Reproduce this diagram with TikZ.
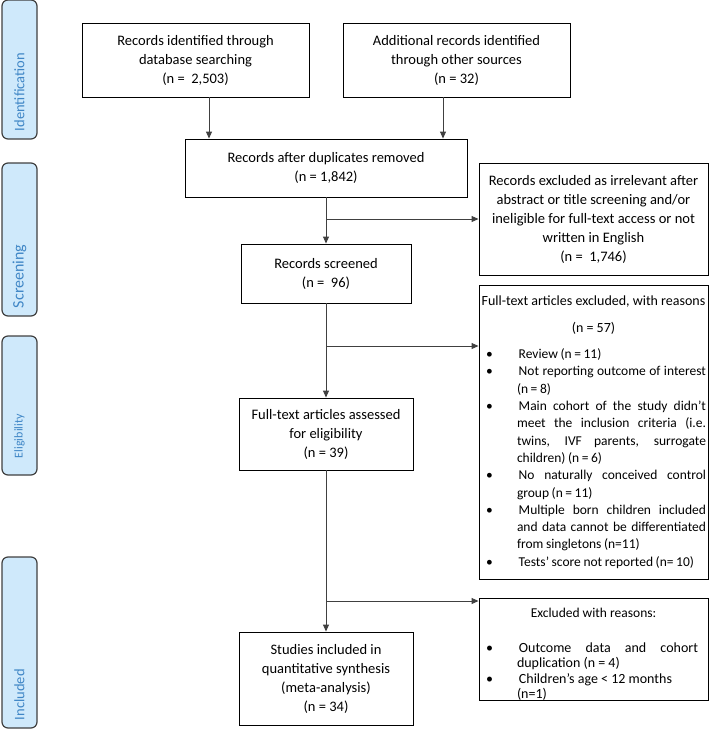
\documentclass[tikz,border=0pt]{standalone}
\usepackage{fontspec}
\setmainfont{Carlito}
\usepackage{enumitem}
\usetikzlibrary{arrows.meta, positioning}
\definecolor{linegray}{HTML}{404040}
\definecolor{stagefill}{HTML}{CFE9FB}
\definecolor{stagetext}{HTML}{3F86C6}
\tikzset{
  stagebar/.style={draw=linegray, line width=1.2pt, fill=stagefill, rounded corners=6pt,
                   rotate=90, minimum height=35pt, text=stagetext, align=left,
                   font=\fontsize{16}{18}\selectfont, inner ysep=0pt},
  flowbox/.style={draw=black, line width=0.9pt, align=center, inner sep=2pt,
                  font=\fontsize{14.5}{19}\selectfont},
  listbox/.style={flowbox, align=justify, inner xsep=2pt, text width=225pt,
                  execute at begin node={\hyphenpenalty=10000\exhyphenpenalty=10000}},
  flowarrow/.style={-{Triangle[length=7pt, width=6pt]}, line width=0.9pt, linegray},
}
\setlist[itemize]{label=\textbullet, leftmargin=36pt, labelwidth=5pt, labelsep=26pt,
  align=left, rightmargin=0pt, topsep=0pt, itemsep=0pt, parsep=0pt, partopsep=0pt}
\newcommand{\tightspace}{\spaceskip=0.19em plus 0.3em minus 0.06em\relax}

\begin{document}
\begin{tikzpicture}[x=1pt, y=1pt]
  \useasboundingbox (0,0) rectangle (709,-729);

  % stages
  \node[stagebar, minimum width=139pt, text width=123pt, font=\fontsize{14.5}{16}\selectfont] (sid) at (19.5,-69.5) {Identification};
  \node[stagebar, minimum width=153pt, text width=137pt] (sscr) at (19.5,-239.5) {Screening};
  \node[stagebar, minimum width=139pt, text width=105pt, font=\fontsize{12}{13}\selectfont] (selig) at (19.5,-405.5) {Eligibility};
  \node[stagebar, minimum width=171pt, text width=155pt, font=\fontsize{14.5}{16}\selectfont] (sinc) at (19.5,-642.5) {Included};

  % main flow
  \node[flowbox, minimum width=227pt, minimum height=74pt] (rec1) at (195.5,-60) {Records identified through\\database searching\\(n =~ 2,503)};
  \node[flowbox, minimum width=227pt, minimum height=74pt] (rec2) at (456.5,-60) {Additional records identified\\through other sources\\(n = 32)};
  \node[flowbox, minimum width=282pt, minimum height=58pt] (dedup) at (326,-168) {Records after duplicates removed\\(n = 1,842)};
  \node[flowbox, minimum width=170pt, minimum height=59pt] (screened) at (326,-273.5) {Records screened\\(n =~ 96)};
  \node[flowbox, minimum width=174pt, minimum height=72pt] (fulltext) at (326,-434) {Full-text articles assessed\\for eligibility\\(n = 39)};
  \node[flowbox, minimum width=174pt, minimum height=93pt] (included) at (326,-678.5) {Studies included in\\quantitative synthesis\\(meta-analysis)\\(n = 34)};

  % exclusions
  \node[flowbox, minimum width=229pt, minimum height=112pt] (excl1) at (593.5,-219) {Records excluded as irrelevant after\\abstract or title screening and/or\\ineligible for full-text access or not\\written in English\\(n =~ 1,746)};
  \node[listbox, minimum height=294pt] (excl2) at (593.5,-432) {%
    {\centering\fontsize{14}{17}\selectfont \makebox[\linewidth]{Full-text articles excluded, with reasons}\par}\vspace{10pt}
    {\centering\fontsize{14}{17}\selectfont (n = 57)\par}\vspace{9pt}
    {\fontsize{13.5}{17.3}\selectfont\tightspace
    \begin{itemize}
      \item Review (n = 11)
      \item Not reporting outcome of interest (n = 8)
      \item Main cohort of the study didn’t meet the inclusion criteria (i.e. twins, IVF parents, surrogate children) (n = 6)
      \item No naturally conceived control group (n = 11)
      \item Multiple born children included and data cannot be differentiated from singletons (n=11)
      \item Tests’ score not reported (n= 10)
    \end{itemize}\par}\vspace*{5pt}};
  \node[listbox, anchor=north, inner ysep=0pt] (excl3) at (593.5,-598) {%
    {\centering\fontsize{13.5}{17}\selectfont\rule{0pt}{19pt}Excluded with reasons:\par}\vspace{19.5pt}
    {\fontsize{14}{15.5}\selectfont
    \begin{itemize}[rightmargin=8pt]
      \item Outcome data and cohort duplication (n = 4)
      \item Children’s age < 12 months\newline (n=1)
    \end{itemize}\par}\vspace*{-5pt}};

  % connectors
  \draw[flowarrow] ([xshift=13.5pt]rec1.south) -- ([xshift=13.5pt]rec1.south |- dedup.north);
  \draw[flowarrow] ([xshift=-13.5pt]rec2.south) -- ([xshift=-13.5pt]rec2.south |- dedup.north);
  \draw[flowarrow] (dedup) -- (screened);
  \draw[flowarrow] (screened) -- (fulltext);
  \draw[flowarrow] (fulltext) -- (included);
  \coordinate (b1) at (326,-219);
  \coordinate (b2) at (326,-346);
  \coordinate (b3) at (326,-601);
  \draw[flowarrow] (b1) -- (b1 -| excl1.west);
  \draw[flowarrow] (b2) -- (b2 -| excl2.west);
  \draw[flowarrow] (b3) -- (b3 -| excl3.west);
\end{tikzpicture}
\end{document}
